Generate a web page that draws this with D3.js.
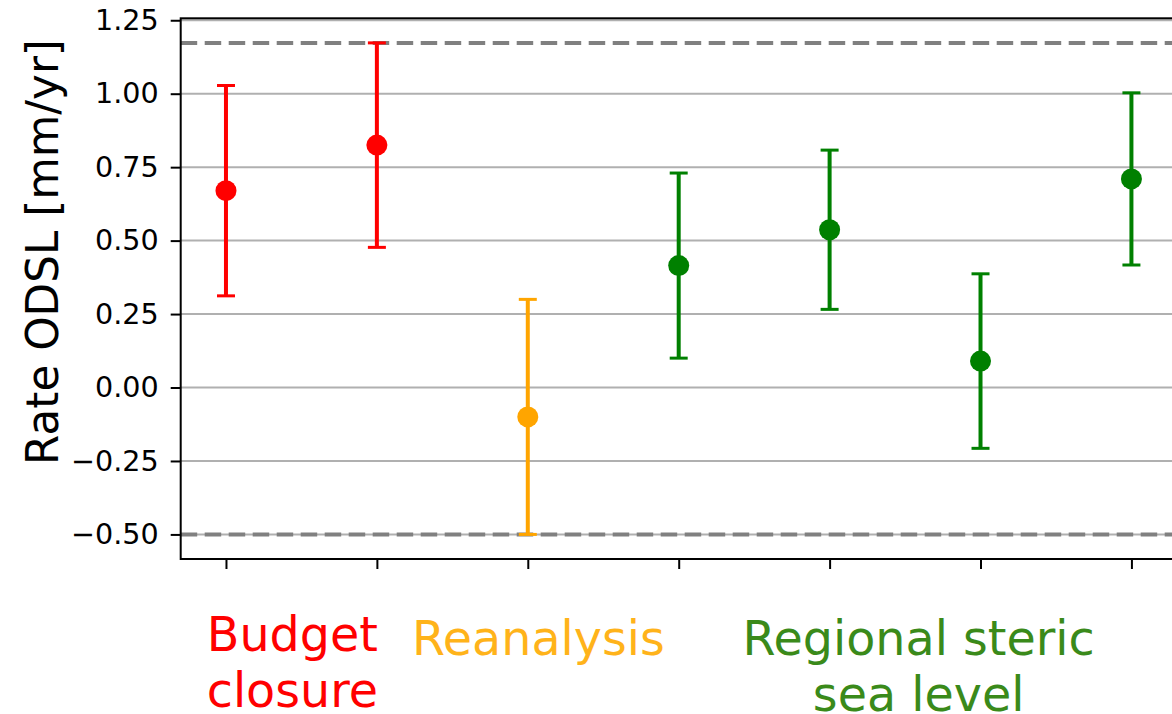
<!DOCTYPE html>
<html>
<head>
<meta charset="utf-8">
<script src="https://cdn.jsdelivr.net/npm/d3@7"></script>
<style>
  html, body { margin: 0; padding: 0; background: #fff; }
  svg { display: block; font-family: "DejaVu Sans", sans-serif; }
</style>
</head>
<body>
<svg id="chart" width="1172" height="714"></svg>
<script>
// ODSL rate estimates (mm/yr) with their uncertainty half-widths
const positions = [0, 1, 2, 3, 4, 5, 6];
const rates = [0.67, 0.825, -0.10, 0.415, 0.537, 0.09, 0.71];
const errors = [0.358, 0.348, 0.40, 0.315, 0.271, 0.297, 0.293];
const pointColors = ["#ff0000", "#ff0000", "#ffa500", "#008000", "#008000", "#008000", "#008000"];

const yTicks = [-0.5, -0.25, 0, 0.25, 0.5, 0.75, 1.0, 1.25];

const groupLines = [["Budget", "closure"], ["Reanalysis"], ["Regional steric", "sea level"]];
const groupColors = ["#ff0000", "#ffb31a", "#3a8a1a"];
const groupCenters = [0.44, 2.07, 4.59];

const yLabel = "Rate ODSL [mm/yr]";

const svg = d3.select("#chart");

const plot = { left: 180.7, right: 1176.7, top: 18.3, bottom: 559 };

// Whisker extents
const lows = rates.map((r, i) => r - errors[i]);
const highs = rates.map((r, i) => r + errors[i]);
const yLo = d3.min(lows), yHi = d3.max(highs);
const margin = 0.05 * (yHi - yLo);

const x = d3.scaleLinear().domain([-0.3, 6.3]).range([plot.left, plot.right]);
const y = d3.scaleLinear().domain([yLo - margin, yHi + margin]).range([plot.bottom, plot.top]);

const fmt = v => {
  const s = Math.abs(v).toFixed(2);
  return (v < 0 ? "\u2212" : "") + s;
};

// Horizontal grid
svg.append("g")
  .selectAll("line")
  .data(yTicks)
  .join("line")
  .attr("x1", plot.left).attr("x2", plot.right)
  .attr("y1", d => y(d)).attr("y2", d => y(d))
  .attr("stroke", "#b0b0b0")
  .attr("stroke-width", 2);

// Dashed envelope at the overall min / max of the whiskers
svg.append("g")
  .selectAll("line")
  .data([yLo, yHi])
  .join("line")
  .attr("x1", plot.left).attr("x2", plot.right)
  .attr("y1", d => y(d)).attr("y2", d => y(d))
  .attr("stroke", "#808080")
  .attr("stroke-width", 4)
  .attr("stroke-dasharray", "16.5 7.5");

// Error bars
const eb = svg.append("g");
eb.selectAll("line.stem")
  .data(positions)
  .join("line")
  .attr("class", "stem")
  .attr("x1", d => x(d)).attr("x2", d => x(d))
  .attr("y1", (d, i) => y(lows[i])).attr("y2", (d, i) => y(highs[i]))
  .attr("stroke", (d, i) => pointColors[i])
  .attr("stroke-width", 4);

const caps = positions.flatMap((p, i) => [
  { p, v: lows[i], c: pointColors[i] },
  { p, v: highs[i], c: pointColors[i] }
]);
eb.selectAll("line.cap")
  .data(caps)
  .join("line")
  .attr("class", "cap")
  .attr("x1", d => x(d.p) - 9).attr("x2", d => x(d.p) + 9)
  .attr("y1", d => y(d.v)).attr("y2", d => y(d.v))
  .attr("stroke", d => d.c)
  .attr("stroke-width", 3);

// Markers
svg.append("g")
  .selectAll("circle")
  .data(positions)
  .join("circle")
  .attr("cx", d => x(d))
  .attr("cy", (d, i) => y(rates[i]))
  .attr("r", 10.5)
  .attr("fill", (d, i) => pointColors[i]);

// Axes frame
svg.append("rect")
  .attr("x", plot.left).attr("y", plot.top)
  .attr("width", plot.right - plot.left).attr("height", plot.bottom - plot.top)
  .attr("fill", "none")
  .attr("stroke", "#000")
  .attr("stroke-width", 2);

// Y axis
const yAxis = svg.append("g")
  .attr("transform", `translate(${plot.left},0)`)
  .call(d3.axisLeft(y).tickValues(yTicks).tickFormat(fmt).tickSize(10).tickPadding(12));
yAxis.select(".domain").remove();
yAxis.selectAll(".tick line").attr("stroke", "#000").attr("stroke-width", 2);
yAxis.selectAll(".tick text")
  .attr("font-family", "DejaVu Sans")
  .attr("font-size", 28.6)
  .attr("fill", "#000");

// X axis (ticks only)
const xAxis = svg.append("g")
  .attr("transform", `translate(0,${plot.bottom})`)
  .call(d3.axisBottom(x).tickValues(positions).tickFormat("").tickSize(10));
xAxis.select(".domain").remove();
xAxis.selectAll(".tick line").attr("stroke", "#000").attr("stroke-width", 2);

// Y label
svg.append("text")
  .attr("transform", "translate(58,252) rotate(-90)")
  .attr("text-anchor", "middle")
  .attr("font-size", 43.7)
  .attr("fill", "#000")
  .text(yLabel);

// Group labels below the axis
const lineGap = 56;
const firstBaselines = [651, 655, 655];
groupLines.forEach((lines, g) => {
  const t = svg.append("text")
    .attr("text-anchor", "middle")
    .attr("font-size", 47.6)
    .attr("fill", groupColors[g]);
  lines.forEach((ln, k) => {
    t.append("tspan")
      .attr("x", x(groupCenters[g]))
      .attr("y", firstBaselines[g] + k * lineGap)
      .text(ln);
  });
});
</script>
</body>
</html>
